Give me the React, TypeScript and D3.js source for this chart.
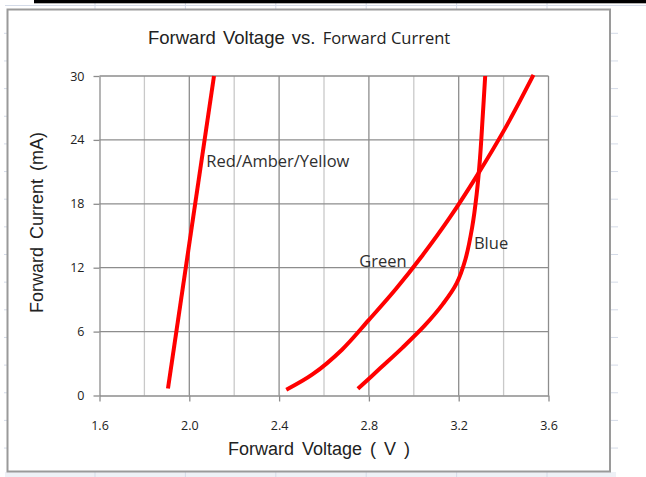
import React, { useEffect, useRef } from 'react';
import * as d3 from 'd3';

// Forward voltage (V) / forward current (mA)
const redVoltage = [1.905, 2.11];
const redCurrent = [0.65, 30];

const greenVoltage = [2.432, 2.55, 2.68, 2.8, 2.92, 3.04, 3.16, 3.28, 3.41, 3.533];
const greenCurrent = [0.54, 2.0, 4.3, 7.1, 10.0, 13.2, 16.7, 20.6, 25.2, 30.1];

const blueVoltage = [2.751, 2.85, 2.95, 3.05, 3.13, 3.19, 3.23, 3.26, 3.28, 3.295, 3.307, 3.318];
const blueCurrent = [0.63, 2.55, 4.5, 6.6, 8.6, 10.5, 12.8, 15.8, 18.9, 22.3, 26.2, 30];

const xTicks = [1.6, 2.0, 2.4, 2.8, 3.2, 3.6];
const xMinorGrid = [1.8, 2.2, 2.6, 3.0, 3.4];
const yTicks = [0, 6, 12, 18, 24, 30];

const seriesLabels = ['Red/Amber/Yellow', 'Green', 'Blue'];
const labelVoltage = [2.076, 2.757, 3.268];
const labelCurrent = [21.5, 12.1, 13.8];

const SEGOE = '"Open Sans", "Noto Sans", sans-serif';
const ARIAL = '"Liberation Sans", Arial, sans-serif';

const ForwardChart: React.FC = () => {
  const svgRef = useRef<SVGSVGElement>(null);

  useEffect(() => {
    if (!svgRef.current) return;
    const svg = d3.select(svgRef.current);
    svg.selectAll('*').remove();

    const width = 646;
    const height = 477;

    const x = d3.scaleLinear().domain([1.6, 3.6]).range([99.5, 548.5]);
    const y = d3.scaleLinear().domain([0, 30]).range([395.5, 76]);

    svg.append('rect').attr('width', width).attr('height', height).attr('fill', '#fff');

    // spreadsheet cells behind the chart
    const cellRows = d3.range(16).map(i => 33.3 + i * 27.65);
    const cellCols = d3.range(6).map(i => 95 + i * 90.4);
    const bg = svg.append('g').attr('stroke', '#d4dbe8').attr('stroke-width', 1);
    bg.append('rect').attr('x', 5).attr('y', 472).attr('width', 611).attr('height', 5)
      .attr('fill', '#eef1f6').attr('stroke', 'none');
    bg.append('line').attr('x1', 5).attr('x2', width).attr('y1', 5.5).attr('y2', 5.5);
    cellRows.forEach(r => {
      bg.append('line').attr('x1', 4).attr('x2', 8).attr('y1', r).attr('y2', r);
      bg.append('line').attr('x1', 610).attr('x2', 618).attr('y1', r).attr('y2', r);
    });
    cellCols.forEach(c => {
      bg.append('line').attr('x1', c).attr('x2', c).attr('y1', 3).attr('y2', 9);
      bg.append('line').attr('x1', c).attr('x2', c).attr('y1', 472).attr('y2', 477);
    });
    svg.append('rect').attr('x', 34).attr('y', 0).attr('width', width - 34).attr('height', 3.3).attr('fill', '#000');

    // chart frame
    svg.append('rect')
      .attr('x', 7.5).attr('y', 9.5).attr('width', 602.5).attr('height', 462)
      .attr('fill', '#fff').attr('stroke', '#9a9a9a').attr('stroke-width', 2);

    const [x0, x1] = x.range();
    const [y0, y1] = y.range();

    // grid
    const grid = svg.append('g');
    grid.selectAll('.minor')
      .data(xMinorGrid)
      .enter()
      .append('line')
      .attr('x1', d => x(d)).attr('x2', d => x(d))
      .attr('y1', y0).attr('y2', y1)
      .attr('stroke', '#c9c9c9').attr('stroke-width', 1.3);
    grid.selectAll('.major')
      .data(xTicks.slice(1))
      .enter()
      .append('line')
      .attr('x1', d => x(d)).attr('x2', d => x(d))
      .attr('y1', y0).attr('y2', y1)
      .attr('stroke', '#8d8d8d').attr('stroke-width', 1.3);
    grid.selectAll('.hgrid')
      .data(yTicks.slice(1))
      .enter()
      .append('line')
      .attr('x1', x0).attr('x2', x1)
      .attr('y1', d => y(d)).attr('y2', d => y(d))
      .attr('stroke', '#8d8d8d').attr('stroke-width', 1.3);

    // axes
    const xAxis = svg.append('g').attr('transform', `translate(0,${y0})`)
      .call(d3.axisBottom(x).tickValues(xTicks).tickSize(6).tickSizeOuter(0).tickPadding(20)
        .tickFormat(d => d3.format('.1f')(d as number)));
    xAxis.select('.domain').attr('stroke', '#8d8d8d').attr('stroke-width', 1.3);
    xAxis.selectAll('.tick line').attr('stroke', '#8d8d8d').attr('stroke-width', 1.3);
    xAxis.selectAll('.tick text')
      .attr('fill', '#222').style('font-family', SEGOE).style('font-size', '12.5px');

    const yAxis = svg.append('g').attr('transform', `translate(${x0},0)`)
      .call(d3.axisLeft(y).tickValues(yTicks).tickSize(6).tickSizeOuter(0).tickPadding(9));
    yAxis.select('.domain').attr('stroke', '#8d8d8d').attr('stroke-width', 1.3);
    yAxis.selectAll('.tick line').attr('stroke', '#8d8d8d').attr('stroke-width', 1.3);
    yAxis.selectAll('.tick text')
      .attr('fill', '#222').style('font-family', SEGOE).style('font-size', '12.5px');

    // curves
    const line = d3.line<[number, number]>()
      .x(d => x(d[0]))
      .y(d => y(d[1]))
      .curve(d3.curveCatmullRom.alpha(0.5));

    const series = [
      d3.zip(redVoltage, redCurrent),
      d3.zip(greenVoltage, greenCurrent),
      d3.zip(blueVoltage, blueCurrent),
    ] as [number, number][][];

    svg.append('g')
      .selectAll('path')
      .data(series)
      .enter()
      .append('path')
      .attr('d', d => line(d))
      .attr('fill', 'none')
      .attr('stroke', '#ff0000')
      .attr('stroke-width', 4)
      .attr('stroke-linejoin', 'round');

    // curve labels
    svg.append('g')
      .selectAll('text')
      .data(seriesLabels)
      .enter()
      .append('text')
      .attr('x', (d, i) => x(labelVoltage[i]))
      .attr('y', (d, i) => y(labelCurrent[i]))
      .attr('fill', '#2f2f2f')
      .style('font-family', SEGOE)
      .style('font-size', '16.5px')
      .text(d => d);

    // titles
    const title = svg.append('text')
      .attr('x', 148).attr('y', 43.5)
      .attr('fill', '#222');
    title.append('tspan').style('font-family', ARIAL).style('font-size', '18.5px')
      .attr('word-spacing', 2).text('Forward Voltage vs. ');
    title.append('tspan').style('font-family', SEGOE).style('font-size', '16.5px').text('Forward Current');

    svg.append('text')
      .attr('x', 228).attr('y', 455)
      .attr('fill', '#222')
      .attr('word-spacing', 3)
      .style('font-family', ARIAL).style('font-size', '18px')
      .text('Forward Voltage  ( V )');

    svg.append('text')
      .attr('transform', 'translate(43,222.5) rotate(-90)')
      .attr('text-anchor', 'middle')
      .attr('fill', '#222')
      .attr('word-spacing', 3)
      .style('font-family', ARIAL).style('font-size', '18px')
      .text('Forward Current (mA)');
  }, []);

  return (
    <svg
      ref={svgRef}
      width={646}
      height={477}
      style={{ position: 'absolute', left: 0, top: 0, display: 'block' }}
    />
  );
};

export default function App() {
  return <ForwardChart />;
}
